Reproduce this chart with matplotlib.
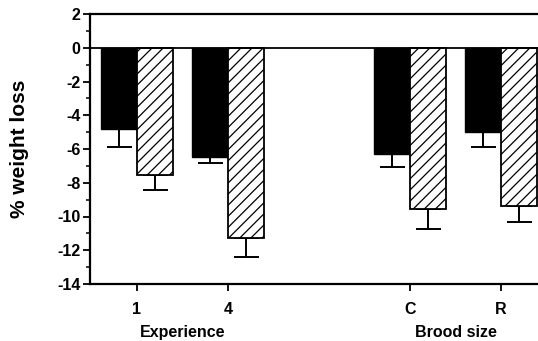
import matplotlib
matplotlib.use("Agg")
import matplotlib.pyplot as plt
import numpy as np
from matplotlib.ticker import MultipleLocator
from matplotlib.transforms import blended_transform_factory

plt.rcParams['font.family'] = ['Liberation Sans', 'DejaVu Sans']
plt.rcParams['hatch.linewidth'] = 0.9

categories = ["1", "4", "C", "R"]
positions = [0, 1, 3, 4]
group_labels = ["Experience", "Brood size"]
solid_vals = [-4.8, -6.45, -6.3, -5.0]
solid_err = [1.1, 0.4, 0.75, 0.9]
hatched_vals = [-7.55, -11.3, -9.55, -9.4]
hatched_err = [0.9, 1.1, 1.2, 0.9]

fig = plt.figure(figsize=(5.38, 3.41), dpi=100)
ax = fig.add_axes([90/538, 1-284/341, 1-90/538, (284-14)/341])

pos = np.array(positions, dtype=float)
w = 0.4
ax.bar(pos - w/2, solid_vals, width=w, color='black', edgecolor='black', linewidth=1, zorder=2)
ax.bar(pos + w/2, hatched_vals, width=w, color='white', edgecolor='black', hatch='///', linewidth=1.3, zorder=2)

for x, v, e in zip(pos - w/2, solid_vals, solid_err):
    ax.errorbar([x], [v], yerr=[[e], [0]], fmt='none', ecolor='black', elinewidth=1.4, capsize=9, capthick=1.4, zorder=1)
for x, v, e in zip(pos + w/2, hatched_vals, hatched_err):
    ax.errorbar([x], [v], yerr=[[e], [0]], fmt='none', ecolor='black', elinewidth=1.4, capsize=9, capthick=1.4, zorder=1)

ax.axhline(0, color='black', linewidth=1.3, zorder=3)

ax.set_xlim(-0.516, 4.407)
ax.set_ylim(-14, 2)
ax.yaxis.set_minor_locator(MultipleLocator(1))
ax.set_yticks([2, 0, -2, -4, -6, -8, -10, -12, -14])
ax.set_yticklabels(['2', '0', '-2', '-4', '-6', '-8', '-10', '-12', '-14'], fontweight='bold', fontsize=11.5)
ax.set_xticks(positions)
ax.set_xticklabels(categories, fontweight='bold', fontsize=11.5)

ax.tick_params(axis='y', which='major', direction='out', length=5, width=1.3, pad=2)
ax.tick_params(axis='y', which='minor', direction='out', length=3, width=1.1)
ax.tick_params(axis='x', which='major', direction='out', length=5, width=1.3, pad=8)

for s in ['left', 'bottom', 'top']:
    ax.spines[s].set_linewidth(1.6)
ax.spines['right'].set_visible(False)

ax.set_ylabel('% weight loss', fontweight='bold', fontsize=15, labelpad=20)

tr = blended_transform_factory(ax.transData, fig.transFigure)
ax.text(0.5, 1 - 337/341, group_labels[0], transform=tr, ha='center', va='baseline', fontweight='bold', fontsize=11.5)
ax.text(3.5, 1 - 337/341, group_labels[1], transform=tr, ha='center', va='baseline', fontweight='bold', fontsize=11.5)

fig.savefig('out.png', dpi=100)
